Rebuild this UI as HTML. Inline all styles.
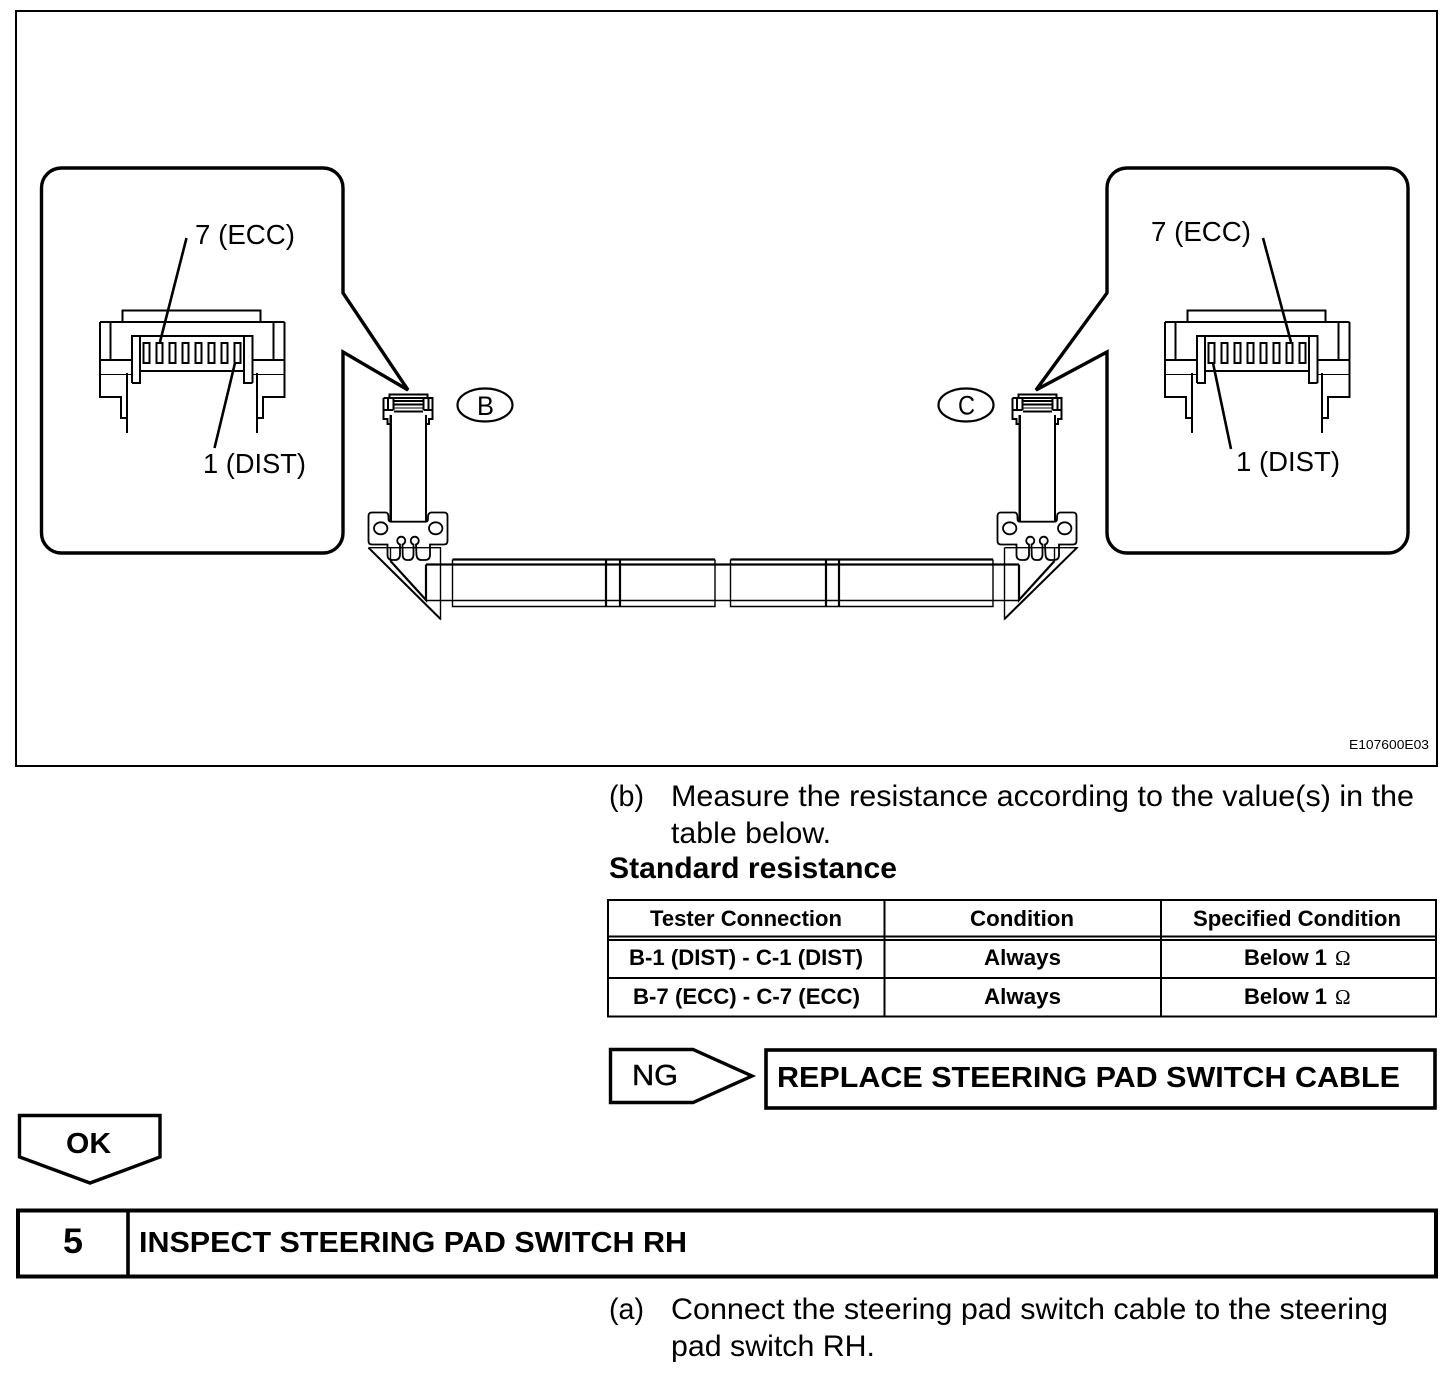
<!DOCTYPE html>
<html><head><meta charset="utf-8"><style>
html,body{margin:0;padding:0;background:#fff;width:1456px;height:1378px;overflow:hidden}
svg{display:block}
text{font-family:"Liberation Sans",sans-serif;fill:#000;stroke:none}
.l{font-size:27.5px}
.t{font-size:30px}
.m{font-size:29px;font-weight:bold}
.b{font-size:22px;font-weight:bold}
</style></head><body>
<svg width="1456" height="1378" viewBox="0 0 1456 1378" fill="none" stroke="#000">
<defs>
<g id="conn" stroke-width="1.6" shape-rendering="crispEdges">
<path d="M122.5 322V310.5H260.5V322"/>
<path d="M100 322H284.5M100 322V397H121V418H127M284.5 322V397H263V418H257M127 373V433M257 373V433" stroke-width="1.8"/>
<path d="M110.5 322V360M273.5 322V360"/>
<path d="M100 360H132M252 360H284.5" stroke-width="2"/>
<path d="M100 374.5H132M252 374.5H284.5" stroke-width="1"/>
<path d="M132 383V336H252.5V383M132 383H140V336M252.5 383H244V336M140 371H244" stroke-width="2"/>
<g stroke-width="2.2">
<rect x="143.5" y="343" width="6" height="20"/><rect x="156.5" y="343" width="6" height="20"/><rect x="169.5" y="343" width="6" height="20"/><rect x="182.5" y="343" width="6" height="20"/><rect x="195.5" y="343" width="6" height="20"/><rect x="208.5" y="343" width="6" height="20"/><rect x="221.5" y="343" width="6" height="20"/><rect x="234.5" y="343" width="6" height="20"/>
</g>
</g>
<g id="small">
<g shape-rendering="crispEdges">
<path d="M389.5 398V394.5H427.5V398" stroke-width="1.6"/>
<path d="M383.5 398H432.5V419H429V424H426.5M383.5 398V419H387.5V424H390.5" stroke-width="1.8"/>
<path d="M388 398V410M393.5 399V410M423.5 399V410M428.5 398V410M383.5 410H393.5M423.5 410H432.5" stroke-width="1.8"/>
<path d="M393.5 401H423.5M394 404.5H423M394 411.5H423" stroke-width="2"/>
<path d="M394 408H423" stroke-width="1"/>
<path d="M390.7 415V521M426 415V521" stroke-width="2.2"/>
</g>
<path d="M368.5 516Q368.5 512.5 372 512.5H386Q388.5 513 388.5 517V519Q388.5 521.7 391 521.7H425.5Q428 521.7 428 519V517Q428 513 431 512.5H444Q447.5 512.5 447.5 516V541Q447.5 544.5 444 544.5H430V555Q430 560 425 560H421.5Q417 560 416.5 555L416 544.5A4 4 0 1 0 413.5 544.5L413.5 555Q413 560 409 560H407Q403 560 402.7 555L402.5 544.5A4 4 0 1 0 400 544.5L400 555Q399.5 560 395 560H392.5Q387.5 560 387.5 555V544.5H372Q368.5 544.5 368.5 541Z" stroke-width="1.8"/>
<ellipse cx="380.7" cy="528.3" rx="6.7" ry="6" stroke-width="1.8"/>
<ellipse cx="435.7" cy="528.3" rx="6.7" ry="6" stroke-width="1.8"/>
</g>
</defs>

<rect x="16" y="11" width="1421" height="755" stroke-width="2"/>

<path d="M343 293V188A20 20 0 0 0 323 168H61.5A20 20 0 0 0 41.5 188V533A20 20 0 0 0 61.5 553H323A20 20 0 0 0 343 533V352L408 390Z" stroke-width="3.4"/>
<path d="M1107 293V188A20 20 0 0 1 1127 168H1388A20 20 0 0 1 1408 188V533A20 20 0 0 1 1388 553H1127A20 20 0 0 1 1107 533V352L1036 390Z" stroke-width="3.4"/>
<use href="#conn"/>
<use href="#conn" x="1065"/>
<path d="M186.5 238L160 342M214.5 448L235 363M1263 238L1291 342M1231 449L1213 363" stroke-width="2.6"/>

<text class="l" x="195" y="244" textLength="100" lengthAdjust="spacingAndGlyphs">7 (ECC)</text>
<text class="l" x="203" y="473" textLength="103" lengthAdjust="spacingAndGlyphs">1 (DIST)</text>
<text class="l" x="1151" y="241" textLength="100" lengthAdjust="spacingAndGlyphs">7 (ECC)</text>
<text class="l" x="1236" y="471" textLength="104" lengthAdjust="spacingAndGlyphs">1 (DIST)</text>

<g stroke-width="1.4">
<path d="M368.5 547.7H440.5V619L368.5 547.7M1004.5 547.7H1077L1004.5 619V547.7"/>
<path d="M426 600.5H1019M452.5 559.5V606.5H715V559.5M730.5 559.5V606.5H993V559.5"/>
<path d="M390.5 547.7V561M1054.5 547.7V561"/>
</g>
<g stroke-width="2.2">
<path d="M390.5 561L426 600V564.5M1054.5 561L1019 600V564.5"/>
<path d="M426 564.5H1019"/>
<path d="M452.5 559.5H715M730.5 559.5H993"/>
<path d="M606 559V606M620 559V606M826 559V606M839 559V606"/>
</g>
<path d="M368.5 547.7L440.5 619M1077 547.7L1004.5 619" stroke-width="2"/>

<use href="#small"/><use href="#small" x="629"/>

<ellipse cx="485" cy="405" rx="27.5" ry="16.5" stroke-width="2.2"/>
<ellipse cx="966" cy="405" rx="27.5" ry="16.5" stroke-width="2.2"/>
<text x="477" y="415" style="font-size:27px" textLength="17" lengthAdjust="spacingAndGlyphs">B</text>
<text x="958" y="414.5" style="font-size:27px" textLength="17" lengthAdjust="spacingAndGlyphs">C</text>

<text x="1349" y="749" style="font-size:13px" textLength="80" lengthAdjust="spacingAndGlyphs">E107600E03</text>

<text class="t" x="609" y="806" textLength="35" lengthAdjust="spacingAndGlyphs">(b)</text>
<text class="t" x="671" y="806" textLength="743" lengthAdjust="spacingAndGlyphs">Measure the resistance according to the value(s) in the</text>
<text class="t" x="671" y="843" textLength="160" lengthAdjust="spacingAndGlyphs">table below.</text>
<text class="t" x="609" y="878" textLength="288" lengthAdjust="spacingAndGlyphs" style="font-weight:bold">Standard resistance</text>
<text class="b" x="650" y="926" textLength="192" lengthAdjust="spacingAndGlyphs">Tester Connection</text>
<text class="b" x="970" y="926" textLength="104" lengthAdjust="spacingAndGlyphs">Condition</text>
<text class="b" x="1193" y="926" textLength="208" lengthAdjust="spacingAndGlyphs">Specified Condition</text>
<text class="b" x="629" y="965" textLength="234" lengthAdjust="spacingAndGlyphs">B-1 (DIST) - C-1 (DIST)</text>
<text class="b" x="984" y="965" textLength="77" lengthAdjust="spacingAndGlyphs">Always</text>
<text class="b" x="1244" y="965" textLength="83" lengthAdjust="spacingAndGlyphs">Below 1</text>
<text x="1335" y="965" style="font-family:'Liberation Serif',serif;font-size:21px">Ω</text>
<text class="b" x="633" y="1004" textLength="227" lengthAdjust="spacingAndGlyphs">B-7 (ECC) - C-7 (ECC)</text>
<text class="b" x="984" y="1004" textLength="77" lengthAdjust="spacingAndGlyphs">Always</text>
<text class="b" x="1244" y="1004" textLength="83" lengthAdjust="spacingAndGlyphs">Below 1</text>
<text x="1335" y="1004" style="font-family:'Liberation Serif',serif;font-size:21px">Ω</text>

<g stroke-width="2" shape-rendering="crispEdges">
<rect x="608" y="900" width="828" height="116.5"/>
<path d="M608 936.5H1436M608 940H1436M608 978H1436M884.5 900V1016.5M1161 900V1016.5"/>
</g>

<path d="M610.5 1049.5H693L752 1076L693 1102.5H610.5Z" stroke-width="3.4"/>
<rect x="766" y="1050" width="669" height="58" stroke-width="3.6"/>
<path d="M19.5 1115.5H160V1157L90 1183L19.5 1157Z" stroke-width="3.4"/>
<rect x="18" y="1210.5" width="1418" height="66" stroke-width="4"/>
<path d="M128 1210V1277" stroke-width="3.6"/>

<text x="632" y="1085" style="font-size:29px;stroke:#000;stroke-width:.4" textLength="46" lengthAdjust="spacingAndGlyphs">NG</text>
<text class="m" x="777" y="1087" textLength="623" lengthAdjust="spacingAndGlyphs">REPLACE STEERING PAD SWITCH CABLE</text>
<text class="m" x="66" y="1153" textLength="45" lengthAdjust="spacingAndGlyphs">OK</text>
<text x="63" y="1253" style="font-size:35px;font-weight:bold" textLength="20" lengthAdjust="spacingAndGlyphs">5</text>
<text class="m" x="139" y="1252" textLength="548" lengthAdjust="spacingAndGlyphs">INSPECT STEERING PAD SWITCH RH</text>
<text class="t" x="609" y="1319" textLength="35" lengthAdjust="spacingAndGlyphs">(a)</text>
<text class="t" x="671" y="1319" textLength="717" lengthAdjust="spacingAndGlyphs">Connect the steering pad switch cable to the steering</text>
<text class="t" x="671" y="1356" textLength="204" lengthAdjust="spacingAndGlyphs">pad switch RH.</text>
</svg>
</body></html>
